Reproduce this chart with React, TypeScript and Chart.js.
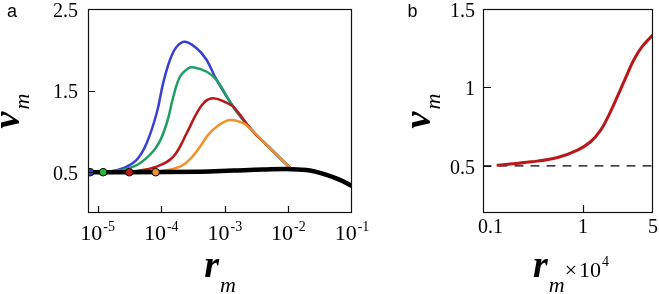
import React, { useEffect, useRef } from "react";
import { Chart, registerables } from "chart.js";

Chart.register(...registerables);

const W = 659;
const H = 294;

// ---------------- Panel a ----------------
const aXTicks = [1e-5, 1e-4, 1e-3, 1e-2, 1e-1];
const aXTickExp = ["-5", "-4", "-3", "-2", "-1"];
const aYTicks = [0.5, 1.5, 2.5];
const aYTickLabels = ["0.5", "1.5", "2.5"];

const blackX = [7.05e-6, 3.16e-5, 4.07e-4, 1.34e-3, 3.98e-3, 1.12e-2, 2.18e-2, 3.98e-2, 6.46e-2, 0.1];
const blackY = [0.5, 0.5, 0.507, 0.52, 0.532, 0.537, 0.52, 0.467, 0.406, 0.33];

const blueX = [7.6e-6, 1.58e-5, 2.53e-5, 4.1e-5, 5.89e-5, 8.47e-5, 1.07e-4, 1.37e-4, 1.75e-4, 2.36e-4, 3.6e-4, 5.18e-4, 7.43e-4, 1.355e-3, 2.64e-3, 4.54e-3, 1.12e-2];
const blueY = [0.5, 0.51, 0.549, 0.651, 0.855, 1.222, 1.589, 1.875, 2.037, 2.099, 2.018, 1.875, 1.63, 1.303, 1.018, 0.834, 0.537];

const greenX = [1.22e-5, 2.51e-5, 4.62e-5, 8.47e-5, 1.22e-4, 1.55e-4, 1.97e-4, 2.66e-4, 3.18e-4, 5.18e-4, 7.43e-4, 1.355e-3, 2.64e-3, 4.54e-3, 1.12e-2];
const greenY = [0.5, 0.53, 0.61, 0.813, 1.1, 1.425, 1.67, 1.773, 1.785, 1.731, 1.63, 1.303, 1.018, 0.834, 0.537];

const redX = [3.14e-5, 8.47e-5, 1.55e-4, 2.51e-4, 3.6e-4, 4.86e-4, 6.58e-4, 1e-3, 1.355e-3, 2.64e-3, 4.54e-3, 1.12e-2];
const redY = [0.5, 0.569, 0.691, 0.977, 1.222, 1.364, 1.406, 1.36, 1.303, 1.018, 0.834, 0.537];

const orangeX = [8.17e-5, 1.97e-4, 3.0e-4, 4.07e-4, 5.5e-4, 7.43e-4, 1.2e-3, 1.95e-3, 2.64e-3, 4.54e-3, 1.12e-2];
const orangeY = [0.5, 0.569, 0.68, 0.813, 0.96, 1.058, 1.14, 1.1, 1.018, 0.834, 0.537];

const markerX = [7.6e-6, 1.22e-5, 3.14e-5, 8.17e-5];
const markerY = [0.5, 0.5, 0.5, 0.5];
const markerColors = ["#3440e0", "#2db52d", "#c81818", "#f0922b"];

// ---------------- Panel b ----------------
const bXTicks = [0.1, 1, 5];
const bXTickLabels = ["0.1", "1", "5"];
const bYTicks = [0.5, 1, 1.5];
const bYTickLabels = ["0.5", "1", "1.5"];

const bRedX = [0.141, 0.303, 0.557, 0.88, 1.19, 1.5, 1.81, 2.2, 2.65, 3.21, 3.89, 5.0];
const bRedY = [0.504, 0.526, 0.554, 0.601, 0.654, 0.728, 0.824, 0.941, 1.058, 1.175, 1.26, 1.335];

const bRefX = [0.1, 5];
const bRefY = [0.5, 0.5];

const SERIF = "'Liberation Serif', 'Times New Roman', serif";
const SANS = "'Liberation Sans', Arial, sans-serif";

const pts = (xs: number[], ys: number[]) => xs.map((x, i) => ({ x, y: ys[i] }));

function drawFrame(chart: any, xMarks: number[], yMarks: number[], len: number) {
  const { ctx, chartArea: a } = chart;
  const xs = chart.scales.x;
  const ys = chart.scales.y;
  ctx.save();
  ctx.strokeStyle = "#111";
  ctx.lineWidth = 1.2;
  ctx.strokeRect(a.left + 0.5, a.top + 0.5, a.right - a.left - 1, a.bottom - a.top - 1);
  ctx.beginPath();
  xMarks.forEach((v) => {
    const px = Math.round(xs.getPixelForValue(v)) + 0.5;
    ctx.moveTo(px, a.bottom);
    ctx.lineTo(px, a.bottom - len);
  });
  yMarks.forEach((v) => {
    const py = Math.round(ys.getPixelForValue(v)) + 0.5;
    ctx.moveTo(a.left, py);
    ctx.lineTo(a.left + len, py);
  });
  ctx.stroke();
  ctx.restore();
}

function drawYLabels(chart: any, vals: number[], labels: string[], rightX: number) {
  const { ctx } = chart;
  const ys = chart.scales.y;
  ctx.save();
  ctx.fillStyle = "#000";
  ctx.font = `20px ${SERIF}`;
  ctx.textAlign = "right";
  ctx.textBaseline = "alphabetic";
  vals.forEach((v, i) => {
    const py = ys.getPixelForValue(v);
    ctx.fillText(labels[i], rightX, Math.max(py, 9) + 7.7);
  });
  ctx.restore();
}

function drawYTitle(ctx: CanvasRenderingContext2D, baseX: number, centerY: number) {
  const f1 = `italic bold 38px ${SERIF}`;
  const f2 = `italic 22px ${SERIF}`;
  ctx.save();
  ctx.font = f1;
  const w1 = ctx.measureText("ν").width;
  ctx.font = f2;
  const w2 = ctx.measureText("m").width;
  const gap = 2;
  const total = w1 + gap + w2;
  ctx.translate(baseX, centerY + total / 2);
  ctx.rotate(-Math.PI / 2);
  ctx.fillStyle = "#000";
  ctx.textAlign = "left";
  ctx.textBaseline = "alphabetic";
  ctx.font = f1;
  ctx.fillText("ν", 0, 0);
  ctx.font = f2;
  ctx.fillText("m", w1 + gap, 10);
  ctx.restore();
}

type Part = { t: string; f: string; dy: number; gap?: number };

function drawParts(ctx: CanvasRenderingContext2D, parts: Part[], centerX: number, baseY: number) {
  ctx.save();
  ctx.fillStyle = "#000";
  ctx.textAlign = "left";
  ctx.textBaseline = "alphabetic";
  const widths = parts.map((p) => {
    ctx.font = p.f;
    return ctx.measureText(p.t).width + (p.gap || 0);
  });
  const total = widths.reduce((s, w) => s + w, 0);
  let x = centerX - total / 2;
  parts.forEach((p, i) => {
    ctx.font = p.f;
    ctx.fillText(p.t, x + (p.gap || 0), baseY + p.dy);
    x += widths[i];
  });
  ctx.restore();
}

const panelAPlugin = {
  id: "panelA",
  afterDraw(chart: any) {
    const { ctx, chartArea: a } = chart;
    const xs = chart.scales.x;
    drawFrame(chart, aXTicks.slice(0, 4), aYTicks, 7);
    drawYLabels(chart, aYTicks, aYTickLabels, 78);
    aXTicks.forEach((v, i) => {
      const px = xs.getPixelForValue(v);
      drawParts(
        ctx,
        [
          { t: "10", f: `22px ${SERIF}`, dy: 0 },
          { t: aXTickExp[i], f: `14px ${SERIF}`, dy: -9, gap: 1 },
        ],
        px,
        240
      );
    });
    drawYTitle(ctx, 18.5, (a.top + a.bottom) / 2);
    drawParts(
      ctx,
      [
        { t: "r", f: `italic bold 38px ${SERIF}`, dy: 0 },
        { t: "m", f: `italic 22px ${SERIF}`, dy: 15, gap: 1 },
      ],
      (a.left + a.right) / 2,
      277
    );
    ctx.save();
    ctx.fillStyle = "#000";
    ctx.font = `18px ${SANS}`;
    ctx.textAlign = "left";
    ctx.fillText("a", 7, 16.5);
    ctx.restore();
  },
};

const panelBPlugin = {
  id: "panelB",
  afterDraw(chart: any) {
    const { ctx, chartArea: a } = chart;
    const xs = chart.scales.x;
    drawFrame(chart, [1], bYTicks, 8);
    drawYLabels(chart, bYTicks, bYTickLabels, 475);
    ctx.save();
    ctx.fillStyle = "#000";
    ctx.font = `20px ${SERIF}`;
    ctx.textAlign = "center";
    bXTicks.forEach((v, i) => {
      let px = xs.getPixelForValue(v);
      const w = ctx.measureText(bXTickLabels[i]).width;
      if (px - w / 2 < a.left - 5) px = a.left - 5 + w / 2;
      ctx.fillText(bXTickLabels[i], px, 233);
    });
    ctx.restore();
    drawYTitle(ctx, 430, (a.top + a.bottom) / 2);
    drawParts(
      ctx,
      [
        { t: "r", f: `italic bold 38px ${SERIF}`, dy: 0 },
        { t: "m", f: `italic 22px ${SERIF}`, dy: 15, gap: 1 },
        { t: "×", f: `22px ${SERIF}`, dy: 0, gap: 0 },
        { t: "10", f: `22px ${SERIF}`, dy: 0, gap: 2 },
        { t: "4", f: `14px ${SERIF}`, dy: -11, gap: 1 },
      ],
      (a.left + a.right) / 2 + 3,
      277
    );
    ctx.save();
    ctx.fillStyle = "#000";
    ctx.font = `18px ${SANS}`;
    ctx.textAlign = "left";
    ctx.fillText("b", 407.5, 16.5);
    ctx.restore();
  },
};

const lineDs = (label: string, xs: number[], ys: number[], color: string, width: number) => ({
  label,
  data: pts(xs, ys),
  borderColor: color,
  backgroundColor: color,
  borderWidth: width,
  pointRadius: 0,
  tension: 0.4,
  borderCapStyle: "round" as const,
  borderJoinStyle: "round" as const,
  fill: false,
});

function baseOptions(xMin: number, xMax: number, yMin: number, yMax: number, yWidth: number, rightPad: number) {
  return {
    animation: false as const,
    responsive: false,
    maintainAspectRatio: false,
    events: [] as any[],
    layout: { padding: { left: 0, top: 9, right: rightPad, bottom: 0 } },
    plugins: { legend: { display: false }, tooltip: { enabled: false }, title: { display: false } },
    scales: {
      x: {
        type: "logarithmic" as const,
        min: xMin,
        max: xMax,
        grid: { display: false },
        border: { display: false },
        ticks: { display: false },
        afterFit: (s: any) => {
          s.height = 81;
        },
      },
      y: {
        type: "linear" as const,
        min: yMin,
        max: yMax,
        grid: { display: false },
        border: { display: false },
        ticks: { display: false },
        afterFit: (s: any) => {
          s.width = yWidth;
        },
      },
    },
  };
}

export default function App() {
  const refA = useRef<HTMLCanvasElement | null>(null);
  const refB = useRef<HTMLCanvasElement | null>(null);

  useEffect(() => {
    if (!refA.current || !refB.current) return;
    const chartA = new Chart(refA.current, {
      type: "line",
      data: {
        datasets: [
          {
            label: "start",
            data: pts(markerX, markerY),
            showLine: false,
            pointRadius: 3.8,
            pointBorderWidth: 1,
            pointBorderColor: "#000",
            pointBackgroundColor: markerColors,
            borderColor: "#000",
          } as any,
          lineDs("black", blackX, blackY, "#000000", 4.5),
          lineDs("orange", orangeX, orangeY, "#f0922b", 2.5),
          lineDs("red", redX, redY, "#b81818", 2.5),
          lineDs("green", greenX, greenY, "#1e9e62", 2.5),
          lineDs("blue", blueX, blueY, "#3a3fd4", 2.5),
        ],
      },
      options: baseOptions(7.05e-6, 0.1, 0, 2.5, 88, W - 352) as any,
      plugins: [panelAPlugin],
    });
    const chartB = new Chart(refB.current, {
      type: "line",
      data: {
        datasets: [
          lineDs("red", bRedX, bRedY, "#b81818", 3),
          { ...lineDs("ref", bRefX, bRefY, "#000000", 1.2), tension: 0, borderDash: [8, 8] } as any,
        ],
      },
      options: baseOptions(0.1, 5, 0.2, 1.5, 483, W - 653) as any,
      plugins: [panelBPlugin],
    });
    return () => {
      chartA.destroy();
      chartB.destroy();
    };
  }, []);

  const cs: React.CSSProperties = { position: "absolute", left: 0, top: 0, width: W, height: H };
  return (
    <div style={{ position: "fixed", left: 0, top: 0, width: W, height: H, background: "#fff" }}>
      <canvas ref={refA} width={W} height={H} style={cs} />
      <canvas ref={refB} width={W} height={H} style={cs} />
    </div>
  );
}
